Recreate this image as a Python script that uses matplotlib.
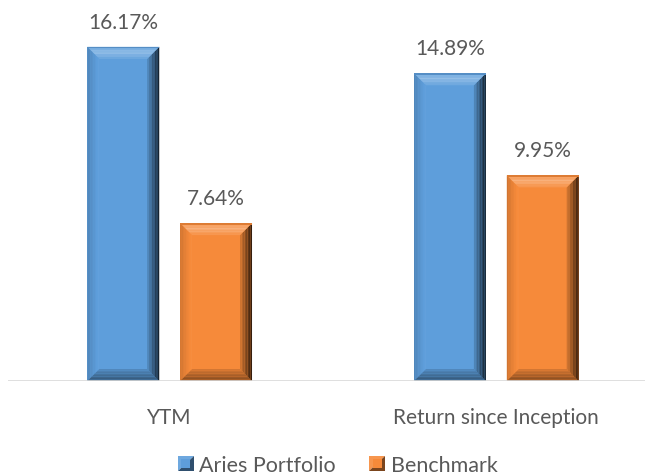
import numpy as np
import matplotlib.pyplot as plt
from matplotlib.patches import Polygon, Rectangle
from matplotlib.legend_handler import HandlerBase
import matplotlib.colors as mcolors

categories = ['YTM', 'Return since Inception']
series_names = ['Aries Portfolio', 'Benchmark']
aries = [16.17, 14.89]
benchmark = [7.64, 9.95]
colors = ['#5E9EDB', '#F68A3A']

plt.rcParams['font.family'] = ['Lato', 'DejaVu Sans']
text_color = '#595959'

fig = plt.figure(figsize=(6.5, 4.77), dpi=100)
ax_w_px, ax_h_px = 637, 372
ax = fig.add_axes([8 / 650, 95 / 477, ax_w_px / 650, ax_h_px / 477])
xlim = (-0.495, 1.455)
ylim = (0, 18)
ax.set_xlim(*xlim)
ax.set_ylim(*ylim)
dxp = (xlim[1] - xlim[0]) / ax_w_px
dyp = (ylim[1] - ylim[0]) / ax_h_px


def shade(c, f):
    r, g, b = mcolors.to_rgb(c)
    if f >= 0:
        return (r + (1 - r) * f, g + (1 - g) * f, b + (1 - b) * f)
    return (r * (1 + f), g * (1 + f), b * (1 + f))


def bevel_bar(x0, w, h, color, bev=12):
    bx, by = bev * dxp, bev * dyp
    x1, y1 = x0 + w, h
    ax.add_patch(Rectangle((x0, 0), w, h, fc=color, ec='none', zorder=2))
    n = 8
    for i in range(n):
        a, b = i / n, (i + 1) / n
        # left side: slight highlight
        left = [(x0 + bx * a, by * a), (x0 + bx * b, by * b),
                (x0 + bx * b, y1 - by * b), (x0 + bx * a, y1 - by * a)]
        ax.add_patch(Polygon(left, fc=shade(color, -0.15 + 0.2 * a), ec='none', zorder=3))
        # bottom side: darker
        bottom = [(x0 + bx * a, by * a), (x1 - bx * a, by * a),
                  (x1 - bx * b, by * b), (x0 + bx * b, by * b)]
        ax.add_patch(Polygon(bottom, fc=shade(color, -0.45 + 0.35 * a), ec='none', zorder=3))
        # right side: dark gradient to the edge
        right = [(x1 - bx * a, by * a), (x1 - bx * b, by * b),
                 (x1 - bx * b, y1 - by * b), (x1 - bx * a, y1 - by * a)]
        ax.add_patch(Polygon(right, fc=shade(color, -0.78 + 0.7 * a), ec='none', zorder=3))
        # top side: light gradient
        top = [(x0 + bx * a, y1 - by * a), (x1 - bx * a, y1 - by * a),
               (x1 - bx * b, y1 - by * b), (x0 + bx * b, y1 - by * b)]
        ax.add_patch(Polygon(top, fc=shade(color, 0.1 + 0.25 * (1 - abs(2 * a - 0.8))), ec='none', zorder=4))
    ax.add_patch(Rectangle((x0, y1 - 1.5 * dyp), w, 1.5 * dyp, fc=shade(color, -0.1), ec='none', zorder=5))


bar_w = 0.22
gap = 0.064
x = np.arange(len(categories))
for vals, c, off in [(aries, colors[0], -(bar_w + gap) / 2), (benchmark, colors[1], (bar_w + gap) / 2)]:
    for xi, v in zip(x, vals):
        bevel_bar(xi + off - bar_w / 2, bar_w, v, c)
        ax.text(xi + off, v + 25 * dyp, f'{v:.2f}%', ha='center', va='center',
                fontsize=15, color=text_color)

ax.axhline(0, color='#D9D9D9', lw=1.2, zorder=6)
for s in ax.spines.values():
    s.set_visible(False)
ax.set_yticks([])
ax.set_xticks(x)
ax.set_xticklabels(categories, fontsize=15, color=text_color)
ax.tick_params(axis='x', length=0, pad=19)


class BevelHandler(HandlerBase):
    def create_artists(self, legend, orig, xd, yd, width, height, fontsize, trans):
        c = orig.get_facecolor()
        s = height * 1.05
        x0 = xd + width - s
        y0 = yd + (height - s) / 2
        arts = [Polygon([(x0, y0), (x0, y0 + s), (x0 + s, y0 + s)], fc=shade(c, 0.1), ec='none', transform=trans),
                Polygon([(x0, y0), (x0 + s, y0), (x0 + s, y0 + s)], fc=shade(c, -0.5), ec='none', transform=trans),
                Rectangle((x0 + s * 0.22, y0 + s * 0.22), s * 0.56, s * 0.56, fc=c, ec='none', transform=trans)]
        return arts


handles = [Rectangle((0, 0), 1, 1, fc=c) for c in colors]
leg = fig.legend(handles, series_names, loc='center', bbox_to_anchor=(0.52, 1 - 466 / 477),
                 ncol=2, frameon=False, fontsize=15.5, handler_map={Rectangle: BevelHandler()},
                 handlelength=0.7, handletextpad=0.25, columnspacing=1.6, labelcolor=text_color)

fig.savefig('out.png', dpi=100)
